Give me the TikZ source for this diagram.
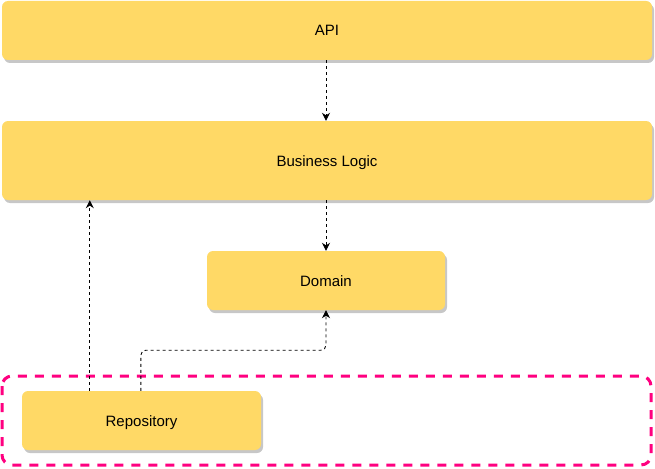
\documentclass[tikz,border=0pt]{standalone}
\usepackage{xcolor}
\usepackage{fontspec}
\setmainfont{Liberation Sans}
\usetikzlibrary{arrows.meta,shadows}
\definecolor{layer}{HTML}{FFD966}
\definecolor{infra}{HTML}{FF0080}
\tikzset{
  layerbox/.style={fill=layer, rounded corners=6pt, inner sep=0pt, text centered,
    font=\fontsize{15}{18}\selectfont, text height=11pt, text depth=0pt,
    drop shadow={shadow xshift=2pt, shadow yshift=-3pt, fill=black!22, opacity=1}},
  dep/.style={black, line width=0.9pt, dash pattern=on 3pt off 3pt,
    -{Stealth[length=8pt, width=8pt]}}
}

\begin{document}
\begin{tikzpicture}[x=1pt, y=-1pt]%
\useasboundingbox (0,0) rectangle (655,468);%
\draw[infra, line width=3pt, dash pattern=on 9pt off 8pt, rounded corners=10pt] (2,376) rectangle (651,465);%
\node[layerbox, minimum width=650pt, minimum height=59pt] (api) at (327, 30.5) {API};%
\node[layerbox, minimum width=650pt, minimum height=79pt] (logic) at (327, 160.5) {Business Logic};%
\node[layerbox, minimum width=238pt, minimum height=59pt] (domain) at (326, 280.5) {Domain};%
\node[layerbox, minimum width=239pt, minimum height=59pt] (repo) at (141.5, 420.5) {Repository};%
\draw[dep] (api.south -| domain) -- (logic.north -| domain);%
\draw[dep] (logic.south -| domain) -- (domain.north);%
\draw[dep] ([xshift=68pt]repo.north west) -- ([xshift=68pt]repo.north west |- logic.south);%
\draw[dep, rounded corners=5pt] ([xshift=119pt]repo.north west) |- ([yshift=-40pt]domain.south) -- (domain.south);%
\end{tikzpicture}
\end{document}
